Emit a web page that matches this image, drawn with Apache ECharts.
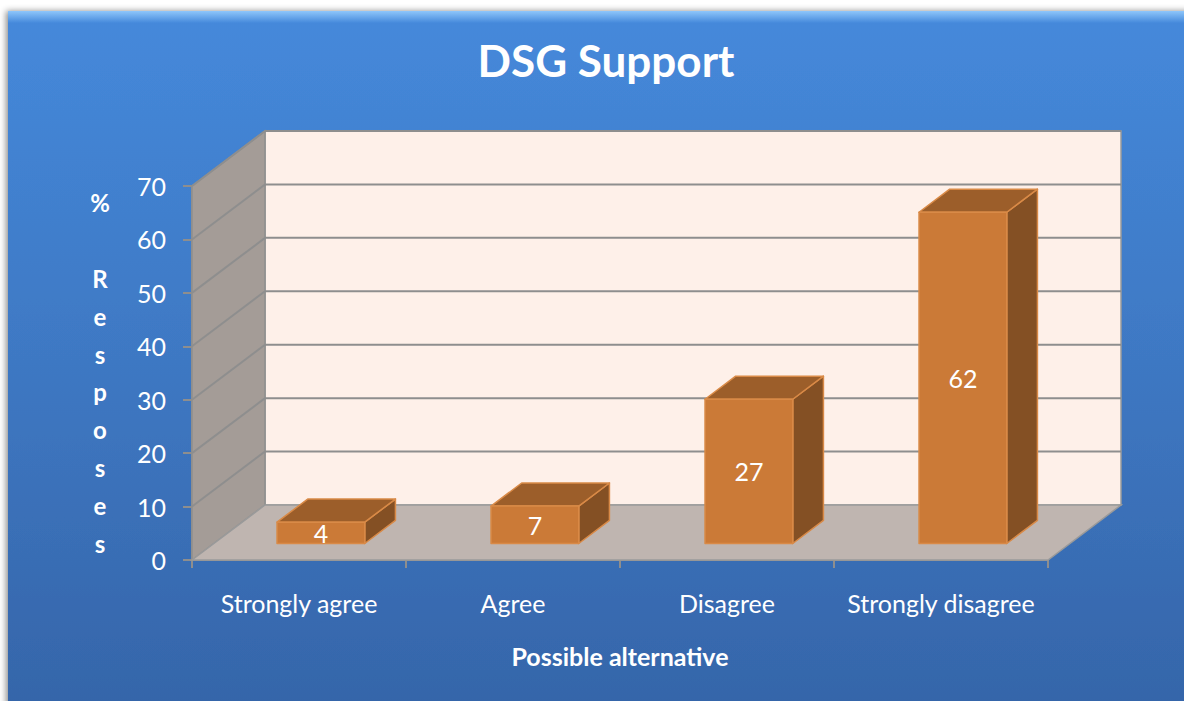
<!DOCTYPE html>
<html>
<head>
<meta charset="utf-8">
<script src="https://cdn.jsdelivr.net/npm/echarts@6/dist/echarts.min.js"></script>
<style>
  html, body { margin: 0; padding: 0; background: #ffffff; }
  #chart { width: 1184px; height: 701px; }
</style>
</head>
<body>
<div id="chart"></div>
<script>
// ---- data ----
const categories = ['Strongly agree', 'Agree', 'Disagree', 'Strongly disagree'];
const values = [4, 7, 27, 62];
const yTicks = [0, 10, 20, 30, 40, 50, 60, 70];
const yAxisTitle = ['%', '', 'R', 'e', 's', 'p', 'o', 's', 'e', 's'];
const xAxisTitle = 'Possible alternative';
const chartTitle = 'DSG Support';

// ---- style constants (3D oblique depth) ----
const DEPTH_X = 73, DEPTH_Y = -55;
const BAR_FRONT = 0.30, BAR_BACK = 0.72, BAR_WIDTH = 0.41;
const FONT = 'Lato, "Open Sans", sans-serif';

const chart = echarts.init(document.getElementById('chart'), null, { renderer: 'svg' });

function renderWalls(params, api) {
  const catW = api.size([1, 0])[0];
  const xL = api.coord([0, 0])[0] - catW / 2;
  const xR = api.coord([categories.length - 1, 0])[0] + catW / 2;
  const yMin = yTicks[0], yMax = yTicks[yTicks.length - 1];
  const yB = api.coord([0, yMin])[1];
  const yT = api.coord([0, yMax])[1];
  const gridStroke = { stroke: '#8e8e8e', lineWidth: 2 };
  const children = [];
  // back wall
  children.push({ type: 'polygon', shape: { points: [
    [xL + DEPTH_X, yT + DEPTH_Y], [xR + DEPTH_X, yT + DEPTH_Y],
    [xR + DEPTH_X, yB + DEPTH_Y], [xL + DEPTH_X, yB + DEPTH_Y]] },
    style: { fill: '#fef0e9', stroke: '#9a9a9a', lineWidth: 1.5 } });
  // side wall
  children.push({ type: 'polygon', shape: { points: [
    [xL, yT], [xL + DEPTH_X, yT + DEPTH_Y], [xL + DEPTH_X, yB + DEPTH_Y], [xL, yB]] },
    style: { fill: '#a49c97', stroke: '#8e8e8e', lineWidth: 1.5 } });
  // floor
  children.push({ type: 'polygon', shape: { points: [
    [xL, yB], [xR, yB], [xR + DEPTH_X, yB + DEPTH_Y], [xL + DEPTH_X, yB + DEPTH_Y]] },
    style: { fill: '#bfb5b0', stroke: '#9a9a9a', lineWidth: 1.5 } });
  // grid lines
  yTicks.forEach(function (t) {
    const y = api.coord([0, t])[1];
    if (t !== yMin) {
      children.push({ type: 'line', shape: { x1: xL + DEPTH_X, y1: y + DEPTH_Y, x2: xR + DEPTH_X, y2: y + DEPTH_Y }, style: gridStroke });
      children.push({ type: 'line', shape: { x1: xL, y1: y, x2: xL + DEPTH_X, y2: y + DEPTH_Y }, style: gridStroke });
    }
  });
  return { type: 'group', children: children };
}

function renderBar(params, api) {
  const idx = api.value(0), v = api.value(1);
  const catW = api.size([1, 0])[0];
  const w = catW * BAR_WIDTH;
  const c = api.coord([idx, 0]);
  const top = api.coord([idx, v])[1];
  const sx = DEPTH_X * BAR_FRONT, sy = DEPTH_Y * BAR_FRONT;
  const dx = DEPTH_X * (BAR_BACK - BAR_FRONT), dy = DEPTH_Y * (BAR_BACK - BAR_FRONT);
  const x0 = c[0] - w / 2 + sx, x1 = c[0] + w / 2 + sx;
  const yb = c[1] + sy, yt = top + sy;
  const edge = { stroke: '#d98a47', lineWidth: 1.5, lineJoin: 'round' };
  return { type: 'group', children: [
    { type: 'polygon', shape: { points: [[x1, yt], [x1 + dx, yt + dy], [x1 + dx, yb + dy], [x1, yb]] },
      style: Object.assign({ fill: '#845024' }, edge) },
    { type: 'polygon', shape: { points: [[x0, yt], [x1, yt], [x1 + dx, yt + dy], [x0 + dx, yt + dy]] },
      style: Object.assign({ fill: '#9c5e2a' }, edge) },
    { type: 'rect', shape: { x: x0, y: yt, width: x1 - x0, height: yb - yt },
      style: Object.assign({ fill: '#cb7a37' }, edge) },
    { type: 'text', x: (x0 + x1) / 2, y: (yt + yb) / 2,
      style: { text: String(v), fill: '#ffffff', font: '25px ' + FONT, align: 'center', verticalAlign: 'middle' } }
  ]};
}

const option = {
  backgroundColor: '#ffffff',
  graphic: [
    { type: 'rect', z: -10, shape: { x: 8, y: 11, width: 1190, height: 700 },
      style: { fill: { type: 'linear', x: 0, y: 0, x2: 0, y2: 1, colorStops: [
        { offset: 0, color: '#4589db' }, { offset: 0.5, color: '#3e78c3' }, { offset: 1, color: '#3565a9' }] },
        shadowBlur: 6, shadowColor: 'rgba(0,0,0,0.45)', shadowOffsetX: -2, shadowOffsetY: 0 } },
    { type: 'rect', z: -9, shape: { x: 8, y: 11, width: 1190, height: 12 },
      style: { fill: { type: 'linear', x: 0, y: 0, x2: 0, y2: 1, colorStops: [
        { offset: 0, color: '#8ec6fb' }, { offset: 1, color: '#4589db' }] } } }
  ],
  title: {
    text: chartTitle, left: 601, top: 33, textAlign: 'center',
    textStyle: { color: '#ffffff', fontSize: 44, fontWeight: 'bold', fontFamily: FONT }
  },
  grid: { left: 192, right: 136, top: 186, bottom: 141, containLabel: false },
  xAxis: {
    type: 'category', data: categories,
    axisLine: { lineStyle: { color: '#8e8e8e', width: 2 } },
    axisTick: { show: true, interval: 0, length: 8, lineStyle: { color: '#8e8e8e', width: 2 } },
    axisLabel: { interval: 0, color: '#ffffff', fontSize: 25, fontFamily: FONT, margin: 30 },
    splitLine: { show: false },
    name: xAxisTitle, nameLocation: 'middle', nameGap: 83,
    nameTextStyle: { color: '#ffffff', fontSize: 25, fontWeight: 'bold', fontFamily: FONT }
  },
  yAxis: {
    type: 'value', min: 0, max: 70, interval: 10,
    axisLine: { show: true, lineStyle: { color: '#8e8e8e', width: 2 } },
    axisTick: { show: true, length: 9, lineStyle: { color: '#8e8e8e', width: 2 } },
    axisLabel: { color: '#ffffff', fontSize: 25, fontFamily: FONT, margin: 26 },
    splitLine: { show: false },
    name: yAxisTitle.join('\n'), nameLocation: 'middle', nameRotate: 0, nameGap: 92,
    nameTextStyle: { color: '#ffffff', fontSize: 24, fontWeight: 'bold', fontFamily: FONT,
      lineHeight: 37.8, align: 'center', verticalAlign: 'middle', padding: [0, 0, 17, 0] }
  },
  series: [
    { type: 'custom', name: 'walls', clip: false, silent: true, z: 1,
      data: [[0, 0]], encode: { x: 0, y: 1 }, renderItem: renderWalls },
    { type: 'custom', name: 'DSG Support', clip: false, z: 2,
      data: values.map(function (v, i) { return [i, v]; }), encode: { x: 0, y: 1 }, renderItem: renderBar }
  ]
};
chart.setOption(option);
</script>
</body>
</html>
